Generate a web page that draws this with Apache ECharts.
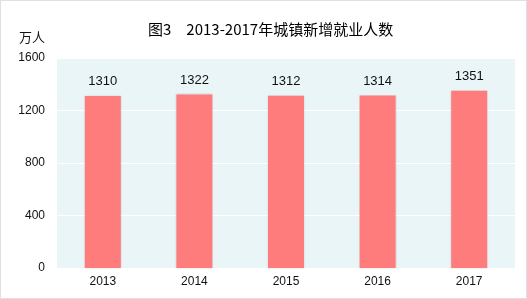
<!DOCTYPE html>
<html><head><meta charset="utf-8">
<script src="https://cdn.jsdelivr.net/npm/echarts@6/dist/echarts.min.js"></script>
<style>html,body{margin:0;padding:0;background:#fff}#c{width:527px;height:299px;box-sizing:border-box;border:1px solid #e0e0e0}</style>
</head><body><div id="c"></div>
<script>
const categories = ['2013','2014','2015','2016','2017'];
const values = [1310,1322,1312,1314,1351];
const yTicks = [0,400,800,1200,1600];
const chart = echarts.init(document.getElementById('c'));
chart.setOption({
  animation:false,
  title:{text:'图3　2013-2017年城镇新增就业人数',left:142,top:16,textStyle:{fontFamily:'Noto Sans CJK SC',fontSize:15,fontWeight:'normal',color:'#000'}},
  graphic:[{type:'text',left:18,top:30,style:{text:'万人',font:'13px "Noto Sans CJK SC"',fill:'#111'}}],
  grid:{left:56,right:11,top:57,bottom:30,show:true,backgroundColor:'#EAF5F8',borderWidth:0},
  xAxis:{type:'category',data:categories,axisLine:{show:false},axisTick:{show:false},
    axisLabel:{color:'#111',fontSize:12,fontFamily:'Liberation Sans',margin:8}},
  yAxis:{type:'value',min:yTicks[0],max:yTicks[yTicks.length-1],interval:400,
    axisLine:{show:false},axisTick:{show:false},
    axisLabel:{color:'#111',fontSize:12,fontFamily:'Liberation Sans',margin:12,formatter:v=>String(v)},
    splitLine:{lineStyle:{color:'#ffffff',width:1}}},
  series:[{type:'bar',data:values,barWidth:36,
    itemStyle:{color:'#FF7C7C',shadowColor:'rgba(0,0,0,0.15)',shadowBlur:2},
    label:{show:true,position:'top',distance:8,color:'#111',fontSize:13,fontFamily:'Liberation Sans'}}]
});
</script></body></html>
